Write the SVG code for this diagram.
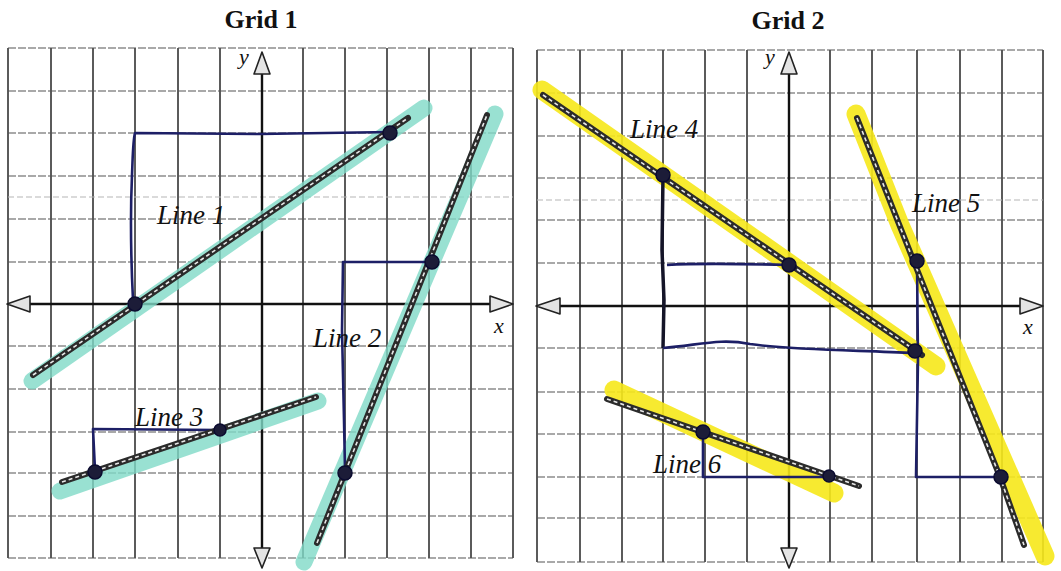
<svg xmlns="http://www.w3.org/2000/svg" width="1061" height="571" viewBox="0 0 1061 571">
<style>
.bg{fill:#ffffff}
.gv{stroke:#262626;stroke-width:1.5;fill:none}
.gh{stroke:#555;stroke-width:1.2;stroke-dasharray:8 2;fill:none}
.gf{stroke:#b5b5b5;stroke-width:1;stroke-dasharray:6 3;fill:none}
.axis{stroke:#111;stroke-width:2.4;fill:none}
.arrow{fill:#e4e4e4;stroke:#222;stroke-width:1.6;stroke-linejoin:round}
.teal{stroke:#7fd9c7;stroke-width:17;stroke-linecap:round;fill:none;opacity:0.8}
.yel{stroke:#f6e81a;stroke-width:19;stroke-linecap:round;fill:none;opacity:0.9}
.road{stroke:#2b2b2b;stroke-width:6;stroke-linecap:round;fill:none}
.dash{stroke:#e8e8e8;stroke-width:1.6;stroke-dasharray:4 3;fill:none}
.navy{stroke:#1d1f66;stroke-width:2.6;fill:none;stroke-linejoin:round}
.navyk{stroke:#141428;stroke-width:3.5;fill:none}
.pt{fill:#1c1c38;stroke:#0b0b30;stroke-width:1.5}
.title{font-family:"Liberation Serif","Times New Roman",serif;font-weight:bold;font-size:26px;fill:#111}
.lab{font-family:"Liberation Serif","Times New Roman",serif;font-style:italic;font-size:27px;fill:#111}
.ax{font-family:"Liberation Serif","Times New Roman",serif;font-style:italic;font-size:22px;fill:#111}
</style>
<rect class="bg" x="0" y="0" width="1061" height="571"/>

<text class="title" x="261" y="28" text-anchor="middle">Grid 1</text>
<text class="title" x="788" y="29" text-anchor="middle">Grid 2</text>

<g id="grid1-paper">
  <path class="gv" d="M8,48V558M51,48V558M93,48V558M135,48V558M178,48V558M220,48V558M303,48V558M345,48V558M387,48V558M429,48V558M471,48V558M513,48V558"/>
  <path class="gh" d="M8,48H513M8,91H513M8,133H513M8,176H513M8,219H513M8,262H513M8,346H513M8,389H513M8,432H513M8,473H513M8,516H513M8,558H513"/>
  <path class="gf" d="M8,197H513"/>
</g>
<g id="grid2-paper">
  <path class="gv" d="M537,50V562M580,50V562M622,50V562M663,50V562M705,50V562M747,50V562M830,50V562M872,50V562M917,50V562M960,50V562M1002,50V562M1043,50V562"/>
  <path class="gh" d="M537,50H1043M537,93H1043M537,136H1043M537,178H1043M537,220H1043M537,263H1043M537,348H1043M537,392H1043M537,434H1043M537,477H1043M537,518H1043M537,562H1043"/>
  <path class="gf" d="M537,200H1043"/>
</g>

<g id="axes1">
  <path class="axis" d="M262,74V548M30,304H490"/>
  <polygon class="arrow" points="262,52 254,74 270,74"/>
  <polygon class="arrow" points="262,568 254,548 270,548"/>
  <polygon class="arrow" points="7,304 30,296 30,312"/>
  <polygon class="arrow" points="513,304 490,296 490,312"/>
  <text class="ax" x="239" y="64">y</text>
  <text class="ax" x="494" y="333">x</text>
</g>
<g id="axes2">
  <path class="axis" d="M789,74V548M560,306H1020"/>
  <polygon class="arrow" points="789,52 781,74 797,74"/>
  <polygon class="arrow" points="789,568 781,548 797,548"/>
  <polygon class="arrow" points="536,306 560,298 560,314"/>
  <polygon class="arrow" points="1043,306 1020,298 1020,314"/>
  <text class="ax" x="765" y="64">y</text>
  <text class="ax" x="1023" y="334">x</text>
</g>

<g id="highlights">
  <path class="teal" d="M32,381L424,108"/>
  <path class="teal" d="M304,562L495,114"/>
  <path class="teal" d="M60,491L318,401"/>
  <path class="yel" d="M542,90L936,366"/>
  <path class="yel" d="M856,114L900,225L1045,556"/>
  <path class="yel" d="M614,390L834,493"/>
</g>

<g id="connectors">
  <path class="navy" d="M133,300C131,260 130,220 132,175C133,150 133,140 135,133L260,134L390,132"/>
  <path class="navy" d="M345,470L344,420L342,330L343,262L432,262"/>
  <path class="navy" d="M95,470L93,429L220,430"/>
  <path class="navyk" d="M663,175L662,250L664,300L663,348"/>
  <path class="navy" d="M663,348C700,345 720,338 750,344C790,350 850,350 915,353"/>
  <path class="navy" d="M667,265C700,263 750,264 789,265"/>
  <path class="navy" d="M917,262L918,360L916,477L1000,477"/>
  <path class="navy" d="M703,432L703,477L829,477"/>
</g>

<g id="line1">
  <path class="road" d="M33,375L408,118"/><path class="dash" d="M33,375L408,118"/>
  <circle class="pt" cx="135" cy="304" r="7"/><circle class="pt" cx="390" cy="133" r="7"/>
  <text class="lab" x="157" y="224">Line 1</text>
</g>
<g id="line2">
  <path class="road" d="M317,543L487,115"/><path class="dash" d="M317,543L487,115"/>
  <circle class="pt" cx="432" cy="262" r="7"/><circle class="pt" cx="345" cy="473" r="7"/>
  <text class="lab" x="313" y="347">Line 2</text>
</g>
<g id="line3">
  <path class="road" d="M62,482L316,397"/><path class="dash" d="M62,482L316,397"/>
  <circle class="pt" cx="95" cy="472" r="7"/><circle class="pt" cx="220" cy="430" r="6"/>
  <text class="lab" x="135" y="426">Line 3</text>
</g>
<g id="line4">
  <path class="road" d="M543,95L922,355"/><path class="dash" d="M543,95L922,355"/>
  <circle class="pt" cx="663" cy="175" r="7"/><circle class="pt" cx="789" cy="265" r="7"/><circle class="pt" cx="915" cy="351" r="7"/>
  <text class="lab" x="630" y="138">Line 4</text>
</g>
<g id="line5">
  <path class="road" d="M857,118L914,262L1000,477L1024,545"/><path class="dash" d="M857,118L914,262L1000,477L1024,545"/>
  <circle class="pt" cx="917" cy="261" r="7"/><circle class="pt" cx="1001" cy="477" r="7"/>
  <text class="lab" x="912" y="212">Line 5</text>
</g>
<g id="line6">
  <path class="road" d="M607,399L859,486"/><path class="dash" d="M607,399L859,486"/>
  <circle class="pt" cx="703" cy="432" r="7"/><circle class="pt" cx="829" cy="476" r="6"/>
  <text class="lab" x="653" y="473">Line 6</text>
</g>
</svg>
